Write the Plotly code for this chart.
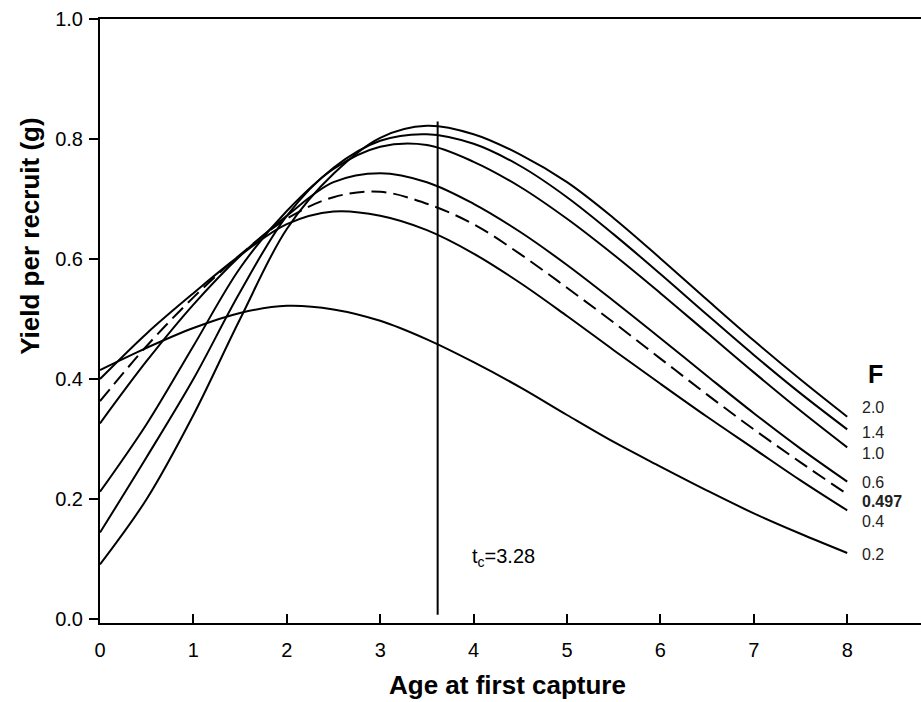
import plotly.graph_objects as go

ages = [0, 0.5, 1, 1.5, 2, 2.5, 3, 3.5, 4, 4.5, 5, 5.5, 6, 6.5, 7, 7.5, 8]

ypr_f02 = [0.415, 0.452, 0.485, 0.510, 0.522, 0.516, 0.497, 0.466, 0.428, 0.386, 0.340, 0.295, 0.254, 0.214, 0.176, 0.142, 0.110]
ypr_f04 = [0.400, 0.476, 0.543, 0.606, 0.658, 0.679, 0.672, 0.648, 0.609, 0.560, 0.505, 0.448, 0.392, 0.337, 0.284, 0.231, 0.181]
ypr_f0497 = [0.363, 0.455, 0.536, 0.607, 0.667, 0.703, 0.712, 0.692, 0.658, 0.608, 0.552, 0.494, 0.434, 0.374, 0.316, 0.261, 0.208]
ypr_f06 = [0.326, 0.430, 0.524, 0.605, 0.672, 0.728, 0.743, 0.728, 0.692, 0.645, 0.590, 0.530, 0.468, 0.405, 0.343, 0.284, 0.229]
ypr_f10 = [0.212, 0.325, 0.455, 0.585, 0.680, 0.750, 0.787, 0.790, 0.762, 0.720, 0.667, 0.607, 0.543, 0.477, 0.411, 0.347, 0.286]
ypr_f14 = [0.144, 0.270, 0.400, 0.545, 0.672, 0.752, 0.797, 0.808, 0.792, 0.755, 0.703, 0.641, 0.575, 0.507, 0.440, 0.376, 0.316]
ypr_f20 = [0.091, 0.200, 0.340, 0.500, 0.650, 0.742, 0.802, 0.822, 0.808, 0.774, 0.728, 0.668, 0.601, 0.532, 0.464, 0.399, 0.337]

f_labels = ["2.0", "1.4", "1.0", "0.6", "<b>0.497</b>", "0.4", "0.2"]
f_label_y = [0.352, 0.311, 0.275, 0.228, 0.195, 0.162, 0.107]

tc_line_x = [3.615, 3.615]
tc_line_y = [0.007, 0.829]

x_ticks = [0, 1, 2, 3, 4, 5, 6, 7, 8]
y_ticks = [0.0, 0.2, 0.4, 0.6, 0.8, 1.0]
y_tick_text = ["0.0", "0.2", "0.4", "0.6", "0.8", "1.0"]

FONT = "Liberation Sans, Arial, sans-serif"

fig = go.Figure()
series = [
    (ypr_f20, "solid"), (ypr_f14, "solid"), (ypr_f10, "solid"), (ypr_f06, "solid"),
    (ypr_f0497, "15px,7px"), (ypr_f04, "solid"), (ypr_f02, "solid"),
]
for vals, dash in series:
    fig.add_trace(go.Scatter(x=ages, y=vals, mode="lines",
                             line=dict(color="black", width=2, dash=dash, shape="spline", smoothing=1.0),
                             showlegend=False, hoverinfo="skip"))

fig.add_trace(go.Scatter(x=tc_line_x, y=tc_line_y, mode="lines",
                         line=dict(color="black", width=2), showlegend=False, hoverinfo="skip"))

annotations = []
for lab, yy in zip(f_labels, f_label_y):
    annotations.append(dict(x=8.137, y=yy, xref="x", yref="y", text=lab, showarrow=False,
                            xanchor="left", yanchor="middle",
                            font=dict(family=FONT, size=16, color="#222")))
annotations.append(dict(x=8.3, y=0.408, xref="x", yref="y", text="<b>F</b>", showarrow=False,
                        xanchor="center", yanchor="middle", font=dict(family=FONT, size=25, color="black")))
annotations.append(dict(x=3.96, y=0.103, xref="x", yref="y", text="t<sub>c</sub>=3.28", showarrow=False,
                        xanchor="left", yanchor="middle", font=dict(family=FONT, size=20, color="black")))
annotations.append(dict(x=4.36, y=0, xref="x", yref="paper", text="<b>Age at first capture</b>", showarrow=False,
                        xanchor="center", yanchor="middle", yshift=-62,
                        font=dict(family=FONT, size=26, color="black")))
annotations.append(dict(x=0, y=0.637, xref="paper", yref="y", text="<b>Yield per recruit (g)</b>", showarrow=False,
                        xanchor="center", yanchor="middle", xshift=-70, textangle=-90,
                        font=dict(family=FONT, size=26, color="black")))

fig.update_layout(
    width=921, height=702,
    margin=dict(l=100, r=0, t=19, b=79),
    paper_bgcolor="white", plot_bgcolor="white",
    font=dict(family=FONT, size=20, color="black"),
    annotations=annotations,
    xaxis=dict(range=[0, 8.79], tickvals=x_ticks, ticks="inside", ticklen=9, tickwidth=2,
               tickcolor="black", showline=True, linecolor="black", linewidth=2, mirror=True,
               showgrid=False, zeroline=False, ticklabelstandoff=8,
               tickfont=dict(family=FONT, size=20, color="black")),
    yaxis=dict(range=[-0.0067, 1.0], tickvals=y_ticks, ticktext=y_tick_text, ticks="outside",
               ticklen=9, tickwidth=2, tickcolor="black", showline=True, linecolor="black",
               linewidth=2, showgrid=False, zeroline=False, ticklabelstandoff=2,
               tickfont=dict(family=FONT, size=20, color="black")),
)

fig.write_html("out.html")
